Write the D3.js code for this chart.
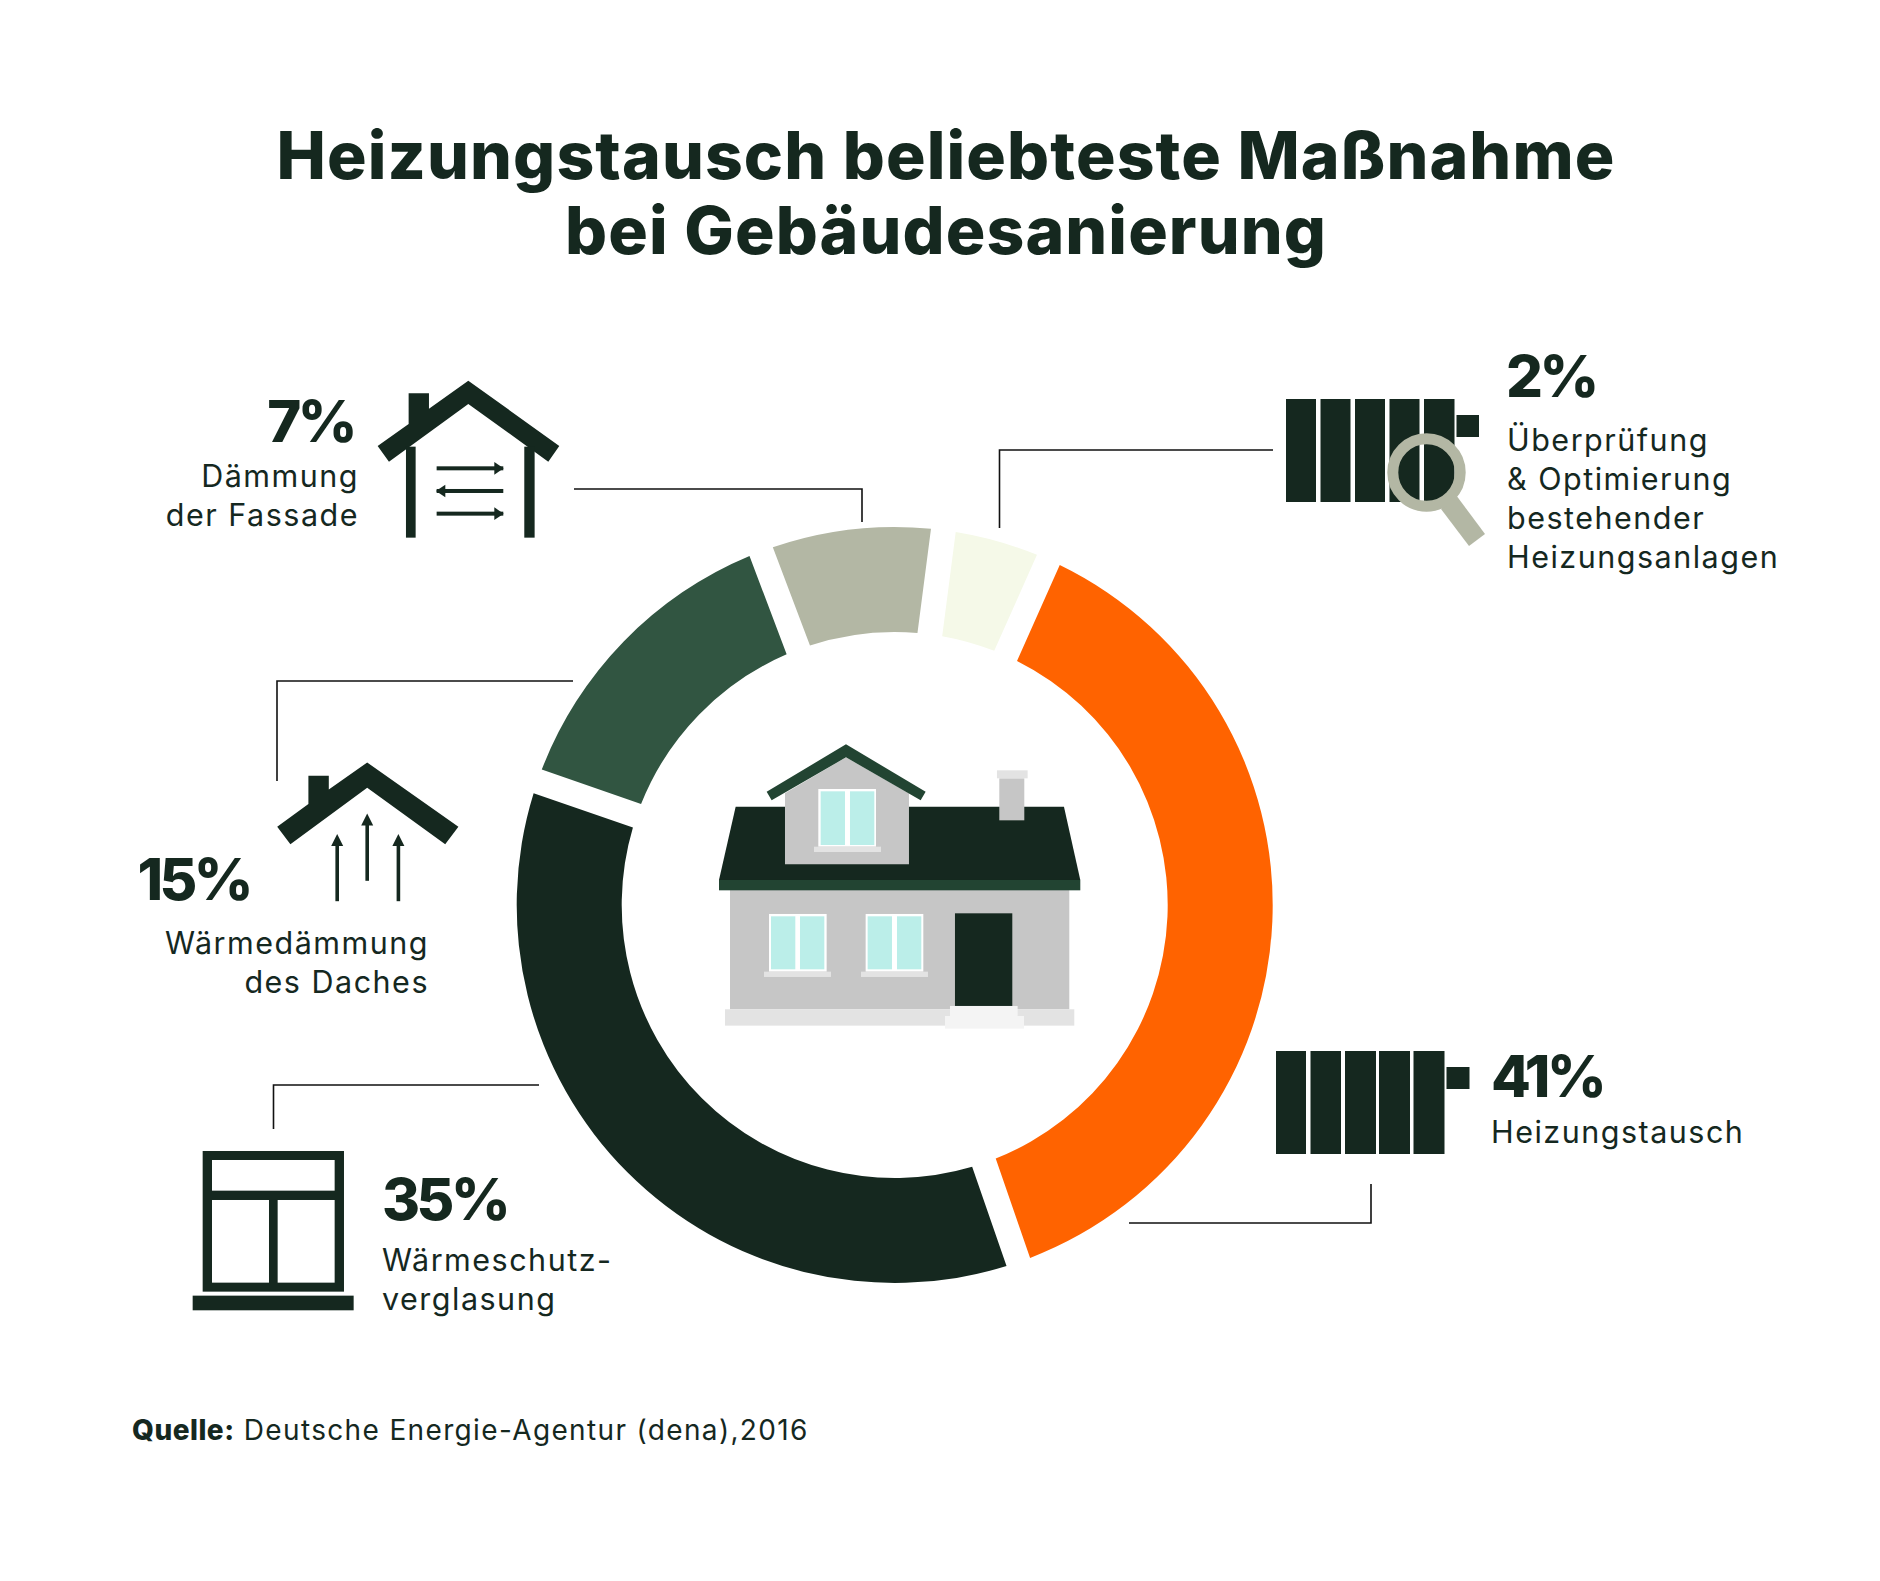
<!DOCTYPE html>
<html lang="de">
<head>
    <meta charset="UTF-8">
    <title>Heizungstausch beliebteste Maßnahme</title>
    <script src="https://d3js.org/d3.v7.min.js"></script>
    <style>
        html, body { margin: 0; background: #fff; }
        svg { display: block; }
        text { font-family: Inter, sans-serif; fill: #15281f; }
        .title { font-size: 66px; font-weight: 800; letter-spacing: 1.1px; text-anchor: middle; }
        .pct { font-size: 58px; font-weight: 800; letter-spacing: -3.5px; }
        .sub { font-size: 30.5px; font-weight: 400; letter-spacing: 1.5px; }
        .src { font-size: 28px; letter-spacing: 1.35px; }
        .lead { fill: none; stroke: #111; stroke-width: 1.6px; }
    </style>
</head>
<body>
    <div id="chart"></div>

    <script>
        const titleLines = ["Heizungstausch beliebteste Maßnahme", "bei Gebäudesanierung"];
        const categories = ["Heizungstausch", "Wärmeschutzverglasung", "Wärmedämmung des Daches", "Dämmung der Fassade", "Überprüfung & Optimierung"];
        const percentLabels = ["41%", "35%", "15%", "7%", "2%"];
        // slice sizes as drawn in the picture, they are not the printed percentages
        const drawnDegrees = [136.9, 128.2, 50.2, 28.1, 16.6];
        const sliceColors = ["#ff6300", "#15281f", "#315541", "#b3b7a4", "#f5f9e8"];
        const subLines = [
            ["Heizungstausch"],
            ["Wärmeschutz-", "verglasung"],
            ["Wärmedämmung", "des Daches"],
            ["Dämmung", "der Fassade"],
            ["Überprüfung", "& Optimierung", "bestehender", "Heizungsanlagen"]
        ];
        const sourceBold = "Quelle:";
        const sourceText = "Deutsche Energie-Agentur (dena),2016";

        const width = 1880, height = 1581;
        const dark = "#15281f", eave = "#224432", wall = "#c6c6c6", light = "#e3e3e3", glass = "#bbeee9", sage = "#b3b7a4";

        const svg = d3.select("#chart").append("svg")
            .attr("width", width).attr("height", height);

        svg.selectAll(".title").data(titleLines).enter().append("text")
            .attr("class", "title")
            .attr("x", 946)
            .attr("y", (d, i) => 179 + i * 75)
            .text(d => d);

        // donut
        const pie = d3.pie().sort(null).value(d => d)
            .startAngle(24 * Math.PI / 180)
            .endAngle(384 * Math.PI / 180);
        const arc = d3.arc().innerRadius(273).outerRadius(378)
            .padRadius(100).padAngle(0.25);

        svg.append("g").attr("transform", "translate(894.7,905)")
            .selectAll("path").data(pie(drawnDegrees)).enter().append("path")
            .attr("d", arc)
            .attr("fill", (d, i) => sliceColors[i]);

        // leader lines
        const leaders = [
            [[1129, 1223], [1371, 1223], [1371, 1184]],
            [[539, 1085], [273.5, 1085], [273.5, 1129]],
            [[573, 681], [277, 681], [277, 781]],
            [[574, 489], [862, 489], [862, 522]],
            [[1273, 450], [999.5, 450], [999.5, 528]]
        ];
        svg.selectAll(".lead").data(leaders).enter().append("path")
            .attr("class", "lead")
            .attr("d", d3.line());

        // labels: pct position, anchor, first sub line baseline
        const labelPos = [
            { x: 1491, y: 1097, subY: 1143, anchor: "start", subX: 1491 },
            { x: 382, y: 1220, subY: 1271, anchor: "start", subX: 382 },
            { x: 250, y: 900, subY: 954, anchor: "end", subX: 429 },
            { x: 354, y: 442, subY: 487, anchor: "end", subX: 359 },
            { x: 1506, y: 397, subY: 451, anchor: "start", subX: 1507 }
        ];
        percentLabels.forEach((p, i) => {
            const pos = labelPos[i];
            svg.append("text").attr("class", "pct")
                .attr("x", pos.x).attr("y", pos.y)
                .attr("text-anchor", pos.anchor).text(p);
            svg.selectAll(null).data(subLines[i]).enter().append("text")
                .attr("class", "sub")
                .attr("x", pos.subX)
                .attr("y", (d, j) => pos.subY + j * 39)
                .attr("text-anchor", pos.anchor)
                .text(d => d);
        });

        const src = svg.append("text").attr("class", "src").attr("x", 132).attr("y", 1440);
        src.append("tspan").attr("font-weight", 800).style("letter-spacing", "0.5px").text(sourceBold);
        src.append("tspan").text(" " + sourceText);

        // icons, hand drawn
        function rects(g, list, fill) {
            g.selectAll(null).data(list).enter().append("rect")
                .attr("x", d => d[0]).attr("y", d => d[2])
                .attr("width", d => d[1] - d[0]).attr("height", d => d[3] - d[2])
                .attr("fill", fill);
        }
        function poly(g, pts, fill) {
            g.append("polygon").attr("points", pts).attr("fill", fill);
        }

        // house with facade arrows, coordinates of a 3x crop
        const ic7 = svg.append("g").attr("transform", "translate(100,340) scale(0.3333)");
        poly(ic7, "833,318 926,252 926,160 987,160 987,206 1105,122 1378,318 1345,365 1105,192 867,365", dark);
        rects(ic7, [[918, 947, 320, 593], [1273, 1304, 320, 593]], dark);
        [[385, 1], [453, -1], [521, 1]].forEach(a => {
            rects(ic7, [[1010, 1210, a[0] - 6, a[0] + 6]], dark);
            const tip = a[1] > 0 ? 1211 : 1008, base = a[1] > 0 ? 1183 : 1036;
            poly(ic7, `${tip},${a[0]} ${base},${a[0] - 19} ${base},${a[0] + 19}`, dark);
        });

        // house with roof arrows
        const ic15 = svg.append("g").attr("transform", "scale(1.2)");
        poly(ic15, "231,689 257,670 257,646.5 274,646.5 274,658 306,635.5 382,689 371,703.5 306,656.5 242,703.5", dark);
        [[281, 695, 751], [306, 678, 734], [332, 695, 751]].forEach(a => {
            rects(ic15, [[a[0] - 1.5, a[0] + 1.5, a[1] + 8, a[2]]], dark);
            poly(ic15, `${a[0]},${a[1]} ${a[0] - 5},${a[1] + 10} ${a[0] + 5},${a[1] + 10}`, dark);
        });

        // window
        const ic35 = svg.append("g").attr("transform", "translate(170,1070) scale(0.3333)");
        rects(ic35, [[98, 522, 243, 665], [68, 551, 677, 721]], dark);
        rects(ic35, [[126, 494, 270, 362], [126, 297, 390, 638], [323, 494, 390, 638]], "#fff");

        // radiators
        const ic41 = svg.append("g");
        rects(ic41, [[1276, 1306], [1310.5, 1341], [1345, 1376], [1379, 1410], [1413.5, 1444.5]].map(b => [b[0], b[1], 1051, 1154]), dark);
        rects(ic41, [[1446.5, 1469.5, 1067, 1089]], dark);

        const ic2 = svg.append("g");
        rects(ic2, [[1286, 1316], [1320.5, 1350.5], [1355, 1385], [1389.5, 1419.5], [1424, 1454.5]].map(b => [b[0], b[1], 399, 502]), dark);
        rects(ic2, [[1456.5, 1479, 415, 437]], dark);
        poly(ic2, "1456,495 1485,534 1469,546 1441,509", sage);
        ic2.append("circle").attr("cx", 1426.5).attr("cy", 472.5).attr("r", 33.7)
            .attr("fill", "none").attr("stroke", sage).attr("stroke-width", 11);

        // center house
        const h = svg.append("g").attr("transform", "translate(700,730) scale(0.3333)");
        rects(h, [[90, 1108, 480, 838]], wall);
        rects(h, [[75, 1123, 838, 887]], light);
        poly(h, "107,230 1092,230 1141,450 57,450", dark);
        rects(h, [[57, 1141, 450, 481]], eave);
        poly(h, "255,403 255,190 438,82 627,190 627,403", wall);
        poly(h, "200,185 438,43 677,185 662,211 438,82 215,211", eave);
        rects(h, [[355, 528, 177, 350], [207, 380, 552, 725], [497, 670, 552, 725]], "#fff");
        rects(h, [[362, 435, 184, 345], [450, 523, 184, 345], [213, 286, 559, 718], [300, 373, 559, 718], [503, 576, 559, 718], [591, 664, 559, 718]], glass);
        rects(h, [[342, 543, 350, 366], [192, 393, 725, 741], [483, 684, 725, 741]], light);
        rects(h, [[898, 973, 145, 271]], wall);
        rects(h, [[891, 983, 121, 145]], light);
        rects(h, [[765, 937, 550, 828]], dark);
        rects(h, [[750, 953, 828, 858], [735, 972, 858, 896]], "#f4f4f4");
    </script>
</body>
</html>
